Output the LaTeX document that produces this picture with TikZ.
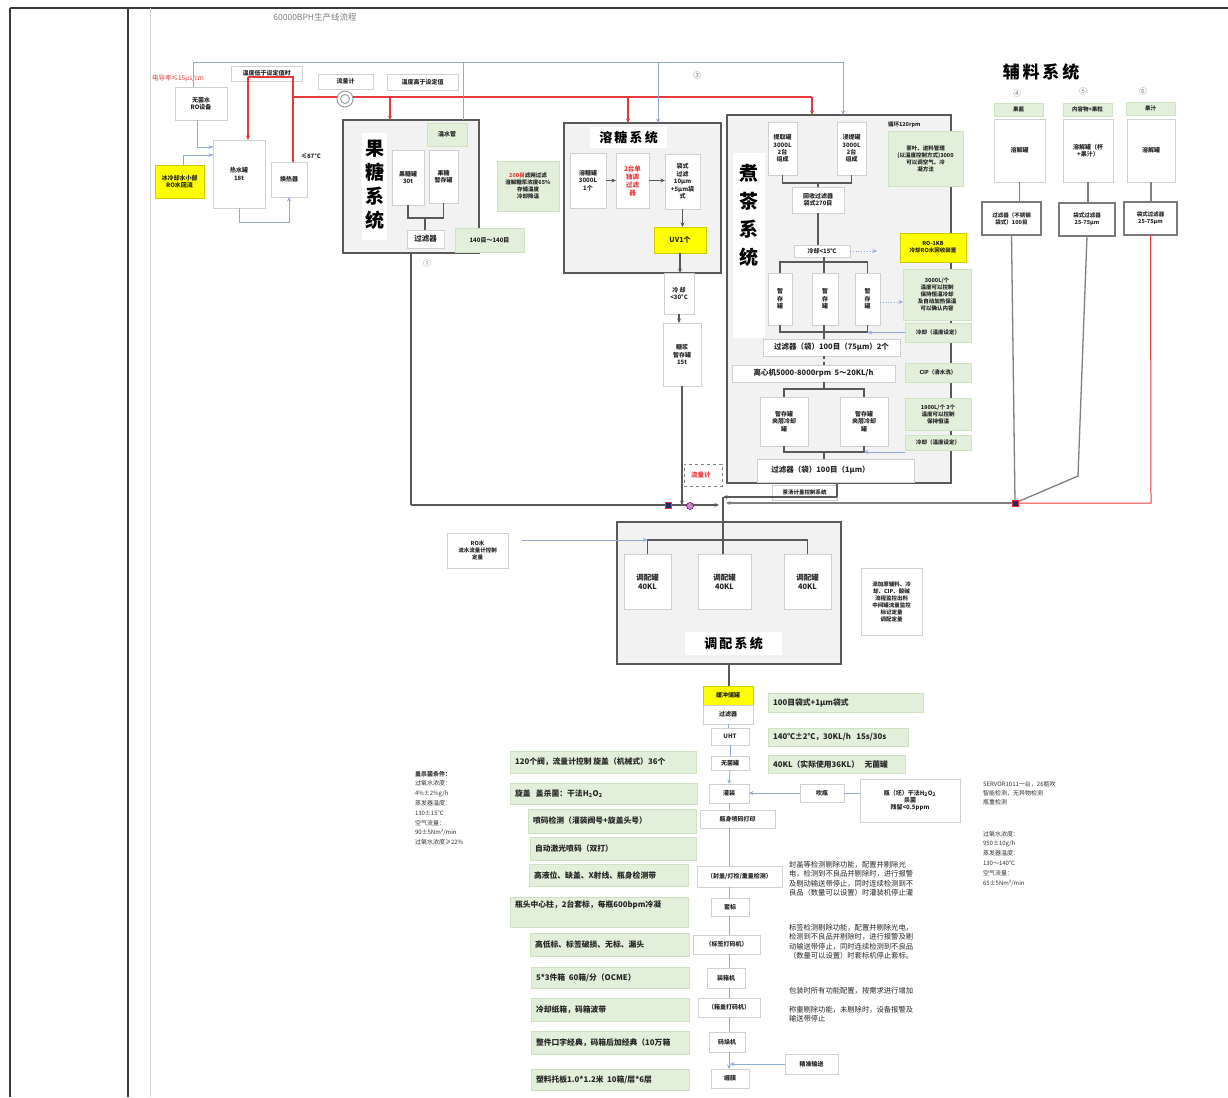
\documentclass[tikz,border=0pt]{standalone}
\usepackage{fontspec}
\setmainfont{Noto Sans CJK SC}
\usetikzlibrary{arrows.meta,calc}
\definecolor{gfill}{HTML}{E2EFDA}
\definecolor{gdraw}{HTML}{CFE2C3}
\definecolor{bdr}{HTML}{D0D0D0}
\definecolor{sysf}{HTML}{F2F2F2}
\definecolor{sysd}{HTML}{595959}
\definecolor{lnc}{HTML}{595959}
\definecolor{bl}{HTML}{8FAADC}
\definecolor{rd}{HTML}{E8393A}
\definecolor{ylw}{HTML}{FFFF00}
\definecolor{navy}{HTML}{1F2A6B}
\definecolor{frm}{HTML}{3A3A3A}
\tikzset{
 every node/.style={outer sep=0pt, inner sep=0pt, align=center, font=\bfseries\fontsize{7.5}{9}\selectfont, text=black!85},
 sm/.style={font=\bfseries\fontsize{6}{7.4}\selectfont},
 xs/.style={font=\bfseries\fontsize{5.5}{7}\selectfont},
 wbox/.style={draw=bdr, fill=white, line width=0.6pt},
 gbox/.style={draw=gdraw, fill=gfill, line width=0.6pt},
 ybox/.style={draw=ylw!80!black, fill=ylw, line width=0.6pt},
 sysbox/.style={draw=sysd, fill=sysf, line width=1.8pt},
 fbox/.style={draw=sysd!80, fill=white, line width=1.3pt},
 plainw/.style={draw=none, fill=white},
 conn/.style={draw=lnc, line width=1.5pt},
 gconn/.style={draw=gray, line width=1.3pt},
 bconn/.style={draw=bl, line width=0.8pt},
 rconn/.style={draw=rd, line width=1.4pt},
 arr/.style={-{Stealth[length=4.5pt,width=4pt]}},
 ttl/.style={font=\bfseries\fontsize{19}{24}\selectfont, text=black},
 ttlb/.style={font=\bfseries\fontsize{19}{28}\selectfont, text=black},
 sttl/.style={font=\bfseries\fontsize{13}{15}\selectfont, text=black},
 para/.style={anchor=north west, align=left, font=\fontsize{7.3}{9.6}\selectfont, text=black!85},
 spara/.style={anchor=north west, align=left, font=\fontsize{6}{9.8}\selectfont, text=black!80},
 numc/.style={text=gray, font=\fontsize{8}{9}\selectfont},
}
\newcommand\bx[7]{\node[#6, minimum width={#4pt-#2pt}, minimum height={#5pt-#3pt}] (#1) at ({(#2+#4)/2},{(#3+#5)/2}) {#7};}
\newcommand\gl[6]{\bx{#1}{#2}{#3}{#4}{#5}{gbox}{}\node[anchor=west,font=\bfseries\fontsize{7.8}{9}\selectfont] (#1t) at ([xshift=5pt]#1.west) {#6};}
\begin{document}
\begin{tikzpicture}[x=1pt,y=-1pt]
\useasboundingbox (0,0) rectangle (1228,1097);
\fill[white] (0,0) rectangle (1228,1097);
% page frame
\draw[frm, line width=1.4pt] (10,8) -- (1228,8);
\draw[frm, line width=1.2pt] (10,8) -- (10,1097);
\draw[frm, line width=1.2pt] (128,8) -- (128,1097);
\draw[black!15, line width=0.8pt] (150,8) -- (150,1097);
\node[text=gray, font=\fontsize{8.5}{10}\selectfont] (title) at (315,17) {60000BPH生产线流程};

% ---------- top left ----------
\bx{ro}{175}{87}{227}{120}{wbox,sm}{无菌水\\RO设备}
\bx{tlow}{231}{66}{302}{81}{wbox,sm}{温度低于设定值时}
\bx{flow}{318}{74}{373}{89}{wbox,sm}{流量计}
\bx{thigh}{387}{74}{458}{90}{wbox,sm}{温度高于设定值}
\bx{hw}{213}{140}{265}{208}{wbox,sm}{热水罐\\18t}
\bx{hx}{271}{162}{307}{197}{wbox,sm}{换热器}
\bx{ice}{155}{165}{204}{198}{ybox,sm}{冰冷却水小部\\RO水回流}
\node[anchor=west, text=rd, font=\fontsize{6.5}{8}\selectfont] (cond) at (152,78) {电导率≤15μs/cm};
\node[sm] (t87) at (311,156) {≤87°C};

% ---------- fructose ----------
\bx{fsys}{343}{120}{479}{253}{sysbox}{}
\bx{ftb}{362}{133}{387}{240}{plainw}{}
\node[ttl] (fttl) at (374.5,185) {果\\糖\\系\\统};
\bx{ft1}{392}{150}{424}{205}{wbox,sm}{果糖罐\\30t}
\bx{ft2}{429}{150}{458}{203}{wbox,sm}{果糖\\暂存罐}
\bx{fwarm}{427}{123}{467}{146}{gbox,sm}{温水管}
\bx{ffil}{407}{230}{444}{248}{wbox}{过滤器}
\bx{fnote}{455}{228}{524}{252}{gbox,sm}{140目～140目}
\node[numc] (c1n) at (427,263) {①};
\bx{snote}{497}{161}{559}{211}{gbox,xs}{\textcolor{rd}{200目}滤网过滤\\溶解糖浆浓度65\%\\存储温度\\冷却降温}

% ---------- sugar dissolving ----------
\bx{ssys}{564}{123}{721}{273}{sysbox}{}
\bx{stitle}{590}{127}{667}{148}{plainw,sttl}{溶\,糖\,系\,统}
\bx{s1}{570}{153}{606}{208}{wbox,sm}{溶糖罐\\3000L\\1个}
\bx{s2}{616}{153}{649}{208}{wbox,text=rd,font=\bfseries\fontsize{6.5}{8}\selectfont}{2台单\\独调\\过滤\\器}
\bx{s3}{665}{154}{700}{209}{wbox,sm}{袋式\\过滤\\10μm\\+5μm袋\\式}
\bx{uv}{654}{227}{706}{253}{ybox,font=\bfseries\fontsize{7}{8}\selectfont}{UV1个}
\bx{cool}{664}{273}{694}{314}{wbox,sm}{冷 却\\<30°C}
\bx{syr}{663}{323}{701}{386}{wbox,sm}{糖浆\\暂存罐\\15t}
\bx{fm2}{684}{464}{722}{486}{draw=gray,dashed,line width=0.5pt,text=rd,font=\bfseries\fontsize{6.5}{8}\selectfont}{流量计\ \ \ }
\node[numc] (c3n) at (697,75) {③};

% ---------- tea boiling ----------
\bx{tsys}{727}{115}{951}{483}{sysbox}{}
\bx{ttb}{733}{153}{765}{338}{plainw}{}
\node[ttlb] (tttl) at (749,215) {煮\\茶\\系\\统};
\bx{tk1}{768}{122}{797}{175}{wbox,sm}{提取罐\\3000L\\2台\\组成}
\bx{tk2}{837}{122}{866}{175}{wbox,sm}{浸提罐\\3000L\\2台\\组成}
\node[anchor=west,xs] (trpm) at (888,125) {循环120rpm};
\bx{tnote1}{888}{131}{963}{186}{gbox,xs}{茶叶、进料管理\\(以温度控制方式)3000\\可以调空气、冷\\凝方法}
\bx{trec}{792}{187}{844}{213}{wbox,sm}{回收过滤器\\袋式270目}
\bx{tcool}{794}{245}{850}{257}{wbox,sm}{冷却<15℃}
\bx{tro}{900}{233}{966}{262}{ybox,xs}{RO-1KB\\冷却RO水回收装置}
\bx{tt1}{768}{273}{792}{325}{wbox,sm}{暂\\存\\罐}
\bx{tt2}{812}{273}{838}{325}{wbox,sm}{暂\\存\\罐}
\bx{tt3}{855}{273}{880}{325}{wbox,sm}{暂\\存\\罐}
\bx{tnote2}{903}{269}{971}{320}{gbox,xs}{3000L/个\\温度可以控制\\保持恒温冷却\\及自动加热保温\\可以确认内容}
\bx{tnote3}{905}{323}{971}{342}{gbox,xs}{冷却（温度设定）}
\bx{tf1}{763}{339}{900}{356}{wbox}{过滤器（袋）100目（75μm）2个}
\bx{tcen}{732}{365}{895}{382}{wbox}{离心机5000-8000rpm\ \ 5～20KL/h}
\bx{tnote4}{905}{363}{971}{382}{gbox,xs}{CIP（清水洗）}
\bx{tm1}{760}{397}{808}{446}{wbox,sm}{暂存罐\\夹层冷却\\罐}
\bx{tm2}{840}{397}{888}{446}{wbox,sm}{暂存罐\\夹层冷却\\罐}
\bx{tnote5}{905}{398}{971}{430}{gbox,xs}{1800L/个 3个\\温度可以控制\\保持恒温}
\bx{tnote6}{905}{435}{971}{450}{gbox,xs}{冷却（温度设定）}
\bx{tf2}{757}{459}{914}{482}{wbox}{过滤器（袋）100目（1μm）\hspace{30pt}}
\bx{tsoup}{772}{485}{837}{500}{wbox,xs}{茶汤计量控制系统}

% ---------- auxiliary ----------
\node[font=\bfseries\fontsize{17}{20}\selectfont, text=black] (atitle) at (1041,72) {辅\,料\,系\,统};
\node[numc] (c4n) at (1017,93) {④};
\node[numc] (c5n) at (1083,91) {⑤};
\node[numc] (c6n) at (1143,91) {⑥};
\bx{ag1}{994}{103}{1043}{116}{gbox,xs}{果酱}
\bx{ag2}{1063}{103}{1112}{116}{gbox,xs}{内容物+果粒}
\bx{ag3}{1126}{102}{1175}{115}{gbox,xs}{果汁}
\bx{at1}{994}{119}{1045}{182}{wbox,sm}{溶解罐}
\bx{at2}{1063}{119}{1113}{182}{wbox,sm}{溶解罐（杯\\+果汁）}
\bx{at3}{1127}{119}{1175}{182}{wbox,sm}{溶解罐}
\bx{af1}{982}{202}{1041}{235}{fbox,xs}{过滤器（不锈钢\\袋式）100目}
\bx{af2}{1059}{203}{1115}{236}{fbox,xs}{袋式过滤器\\25-75μm}
\bx{af3}{1124}{202}{1177}{235}{fbox,xs}{袋式过滤器\\25-75μm}

% ---------- blending ----------
\bx{bsys}{617}{522}{841}{664}{sysbox}{}
\bx{bt1}{624}{554}{671}{609}{wbox}{调配罐\\40KL}
\bx{bt2}{698}{554}{751}{609}{wbox}{调配罐\\40KL}
\bx{bt3}{784}{554}{831}{609}{wbox}{调配罐\\40KL}
\bx{btitle}{685}{632}{782}{655}{plainw,sttl}{调\,配\,系\,统}
\bx{rob}{447}{533}{508}{568}{wbox,xs}{RO水\\流水流量计控制\\定量}
\bx{bnote}{861}{568}{922}{635}{wbox,xs}{添加原辅料、冷\\却、CIP、酸碱\\流程监控出料\\中间罐流量监控\\标记定量\\调配定量}

% ---------- filling chain ----------
\bx{c0}{703}{686}{753}{705}{ybox,sm}{缓冲储罐}
\bx{c1}{703}{705}{753}{724}{wbox,sm}{过滤器}
\bx{c2}{711}{728}{749}{745}{wbox,sm}{UHT}
\bx{c3}{711}{756}{749}{770}{wbox,sm}{无菌罐}
\bx{c4}{709}{784}{749}{803}{wbox,sm}{灌装}
\bx{c5}{700}{810}{775}{828}{wbox,sm}{瓶身喷码打印}
\bx{c6}{697}{866}{782}{887}{wbox,sm}{（封盖/灯检/重量检测）}
\bx{c7}{711}{898}{749}{916}{wbox,sm}{套标}
\bx{c8}{693}{935}{760}{954}{wbox,sm}{（标签打码机）}
\bx{c9}{707}{968}{745}{988}{wbox,sm}{装箱机}
\bx{c10}{698}{998}{760}{1017}{wbox,sm}{（箱盖打码机）}
\bx{c11}{709}{1032}{745}{1052}{wbox,sm}{码垛机}
\bx{c12}{711}{1069}{749}{1088}{wbox,sm}{缠膜}
\bx{c13}{785}{1054}{838}{1074}{wbox,sm}{精准输送}
\bx{blow}{800}{784}{844}{802}{wbox,sm}{吹瓶}
\bx{ster}{860}{779}{960}{822}{wbox,sm}{瓶（坯）干法H\textsubscript{2}O\textsubscript{2}\\杀菌\\残留<0.5ppm}

\gl{g1}{768}{693}{923}{712}{100目袋式+1μm袋式}
\gl{g2}{768}{728}{908}{746}{140℃±2℃，30KL/h\ \ \ 15s/30s}
\gl{g3}{768}{755}{905}{773}{40KL（实际使用36KL）\ \ \ 无菌罐}
\gl{l1}{510}{751}{696}{773}{120个阀，流量计控制 旋盖（机械式）36个}
\gl{l2}{510}{783}{697}{804}{旋盖\ \ \ 盖杀菌：干法H\textsubscript{2}O\textsubscript{2}}
\gl{l3}{528}{809}{696}{833}{喷码检测（灌装阀号+旋盖头号）}
\gl{l4}{530}{837}{696}{860}{自动激光喷码（双打）}
\gl{l5}{529}{864}{688}{886}{高液位、缺盖、X射线、瓶身检测带}
\bx{l6}{510}{897}{688}{927}{gbox}{}
\node[anchor=north west,font=\bfseries\fontsize{7.8}{9}\selectfont] (l6t) at ([xshift=5pt,yshift=-4pt]l6.north west) {瓶头中心柱，2台套标，每瓶600bpm冷凝};
\gl{l7}{530}{933}{689}{956}{高低标、标签破损、无标、漏头}
\gl{l8}{531}{967}{689}{988}{5*3件箱\ \ 60箱/分（OCME）}
\gl{l9}{531}{998}{689}{1021}{冷却纸箱，码箱波带}
\gl{l10}{531}{1031}{689}{1054}{整件口字经典，码箱后加经典（10万箱}
\gl{l11}{531}{1069}{689}{1090}{塑料托板1.0*1.2米\ \ 10箱/层*6层}

\node[spara] (capl) at (415,771) {\textbf{盖杀菌条件：}\\过氧水浓度：\\4\%±2\%g/h\\蒸发器温度：\\130±15°C\\空气流量：\\90±5Nm³/min\\过氧水浓度≥22\%};
\node[spara,font=\fontsize{6}{9}\selectfont] (capr) at (983,781) {SERVOR1011一台，26瓶吹\\智能检测，无异物检测\\瓶重检测};
\node[spara] (capr2) at (983,831) {过氧水浓度：\\950±10g/h\\蒸发器温度：\\130～140°C\\空气流量：\\65±5Nm³/min};
\node[para] (p1) at (789,861) {封盖等检测剔除功能，配置并剔除光\\电，检测到不良品并剔除时，进行报警\\及剔动输送带停止，同时连续检测到不\\良品（数量可以设置）时灌装机停止灌};
\node[para] (p2) at (789,924) {标签检测剔除功能，配置并剔除光电，\\检测到不良品并剔除时，进行报警及剔\\动输送带停止，同时连续检测到不良品\\（数量可以设置）时套标机停止套标。};
\node[para] (p3) at (789,987) {包装时所有功能配置，按需求进行增加};
\node[para] (p4) at (789,1006) {称重剔除功能，未剔除时，设备报警及\\输送带停止};

% ---------- connectors ----------
\coordinate (rj) at (293,77);
\coordinate (rk) at (293,97);
\coordinate (rh) at (248,77);
\coordinate (r1) at (390,97);
\coordinate (r2) at (628,97);
\coordinate (r3) at (812,97);
\draw[rconn] (rj |- hx.north) -- (rj) -- (rh);
\draw[rconn,arr] (rh) -- (rh |- hw.north);
\draw[rconn] (rk) -- (r3);
\draw[rconn,arr] (r1) -- (r1 |- fsys.north);
\draw[rconn,arr] (r2) -- (r2 |- ssys.north);
\draw[rconn,arr] (r3) -- (r3 |- tsys.north);

\coordinate (b0) at (193,62);
\coordinate (b1) at (463,62);
\coordinate (b2) at (658,62);
\coordinate (b3) at (843,62);
\draw[bconn] (b0 |- ro.north) -- (b0) -- (b3);
\draw[bconn,arr] (b3) -- (b3 |- tsys.north);
\draw[bconn] (b1) -- (b1 |- fsys.north);
\draw[bconn,arr] (b2) -- (b2 |- ssys.north);
\coordinate (b4) at (197,147);
\draw[bconn,arr] (b4 |- ro.south) -- (b4) -- (b4 -| hw.west);
\coordinate (b5) at (183,155);
\draw[bconn,arr] (b5 |- ice.north) -- (b5) -- (b5 -| hw.west);
\coordinate (g1c) at (289,222);
\draw[bconn,arr] (hw.south) |- (g1c) -- (g1c |- hx.south);

\coordinate (fb) at (425,218);
\draw[conn] (ft1.south) |- (fb) -| (ft2.south);
\draw[conn] (fb) -- (fb |- ffil.north);

\draw[conn,arr] (s1.east) -- (s2.west);
\draw[conn,arr] (s2.east) -- (s2.east -| s3.west);
\draw[conn,arr] (s3.south) -- (s3.south |- uv.north);
\draw[conn,arr] (uv.south) -- (uv.south |- cool.north);
\draw[conn,arr] (cool.south) -- (cool.south |- syr.north);

\coordinate (bus1) at (411,505);
\coordinate (mj) at (719,505);
\coordinate (mtop) at (723,497);
\coordinate (mf) at (723,540);
\coordinate (tj) at (837,497);
\coordinate (aj) at (1015,503);
\coordinate (mr) at (726,503);
\draw[conn] (bus1 |- fsys.south) -- (bus1);
\draw[conn,arr] (bus1) -- (mj);
\draw[conn,arr] (syr.south) -- (syr.south |- mj);
\draw[conn] (tj |- tsys.south) -- (tj);
\draw[conn,arr] (tj) -- (mtop);
\draw[conn] (mtop) -- (mf);
\draw[gconn,arr] (aj) -- (mr);

% tea internal
\coordinate (tb1) at (818,183);
\draw[conn] (tk1.south) |- (tb1) -| (tk2.south);
\draw[conn] (tb1) -- (tb1 |- trec.north);
\draw[conn] (trec.south) -- (trec.south |- tcool.north);
\coordinate (td1) at (877,251);
\draw[bconn,dotted,arr] (tcool.east) -- (td1);
\coordinate (tb2) at (824,262);
\draw[conn] (tb2 |- tcool.south) -- (tb2);
\draw[conn] (tt1.north) |- (tb2) -| (tt3.north);
\draw[conn] (tb2) -- (tb2 |- tt2.north);
\coordinate (td2) at (903,302);
\draw[bconn,dotted,arr] (td2 -| tt3.east) -- (td2);
\coordinate (tb3) at (824,332);
\draw[conn] (tt1.south) |- (tb3) -| (tt3.south);
\draw[conn] (tb3 |- tt2.south) -- (tb3) -- (tb3 |- tf1.north);
\draw[bconn,arr] (tnote3.west) -- (tnote3.west -| tt3.south);
\draw[conn,dashed] (tb3 |- tf1.south) -- (tb3 |- tcen.north);
\coordinate (tb4) at (824,389);
\draw[conn] (tb4 |- tcen.south) -- (tb4);
\draw[conn] (tm1.north) |- (tb4) -| (tm2.north);
\coordinate (tb5) at (824,452);
\draw[conn] (tm1.south) |- (tb5) -| (tm2.south);
\draw[conn] (tb5) -- (tb5 |- tf2.north);
\coordinate (td3) at (905,452);
\draw[bconn,arr] (td3) -- (td3 -| tm2.south);

% blending
\draw[conn] (bt1.north) |- (mf) -| (bt3.north);
\draw[conn] (mf) -- (mf |- bt2.north);
\coordinate (rb) at (522,540);
\draw[bconn,arr] (rb) -- (rb -| bt1.north);
\draw[conn] (bsys.south) -- (bsys.south |- c0.north);

% chain
\draw[bconn] (c1.south) -- (c1.south |- c2.north);
\draw[bconn] (c2.south) -- (c3.north);
\draw[bconn,arr] (c3.south) -- (c4.north);
\draw[bconn] (c4.south) -- (c4.south |- c5.north);
\draw[bconn] (c4.south |- c5.south) -- (c4.south |- c6.north);
\draw[bconn] (c4.south |- c6.south) -- (c4.south |- c7.north);
\draw[bconn] (c4.south |- c7.south) -- (c4.south |- c8.north);
\draw[bconn] (c4.south |- c8.south) -- (c4.south |- c9.north);
\draw[bconn] (c4.south |- c9.south) -- (c4.south |- c10.north);
\draw[bconn] (c4.south |- c10.south) -- (c4.south |- c11.north);
\draw[bconn,arr] (c4.south |- c11.south) -- (c4.south |- c12.north);
\draw[bconn,arr] (c13.west) -- (c13.west -| c12.north);
\draw[bconn,arr] (blow.west) -- (blow.west -| c4.east);
\draw[bconn] (blow.east) -- (blow.east -| ster.west);

% auxiliary
\draw[gconn] (at1.south) -- (at1.south |- af1.north);
\draw[gconn] (at2.south) -- (at2.south |- af2.north);
\draw[gconn] (at3.south) -- (at3.south |- af3.north);
\draw[gconn] (af1.south) -- (aj);
\coordinate (ak) at (1078,476);
\draw[gconn] (af2.south) -- (ak) -- (aj);
\coordinate (al) at (1151,503);
\draw[rconn,line width=1pt] (af3.south) -- (al) -- (aj);

% markers and symbols on top
\node[fill=navy,draw=rd,line width=0.5pt,minimum size=6pt] (mk1) at (668,505) {};
\node[circle,fill=violet!45,draw=violet,line width=0.6pt,minimum size=7pt] (mk2) at (690,506) {};
\node[fill=navy,draw=rd,line width=0.5pt,minimum size=6pt] (mk3) at (aj) {};
\node[circle,draw=gray!80,fill=white,line width=0.9pt,minimum size=16pt] (fm) at (345,99) {};
\node[circle,draw=gray!80,line width=0.9pt,minimum size=9pt] (fmi) at (fm) {};
\end{tikzpicture}
\end{document}
